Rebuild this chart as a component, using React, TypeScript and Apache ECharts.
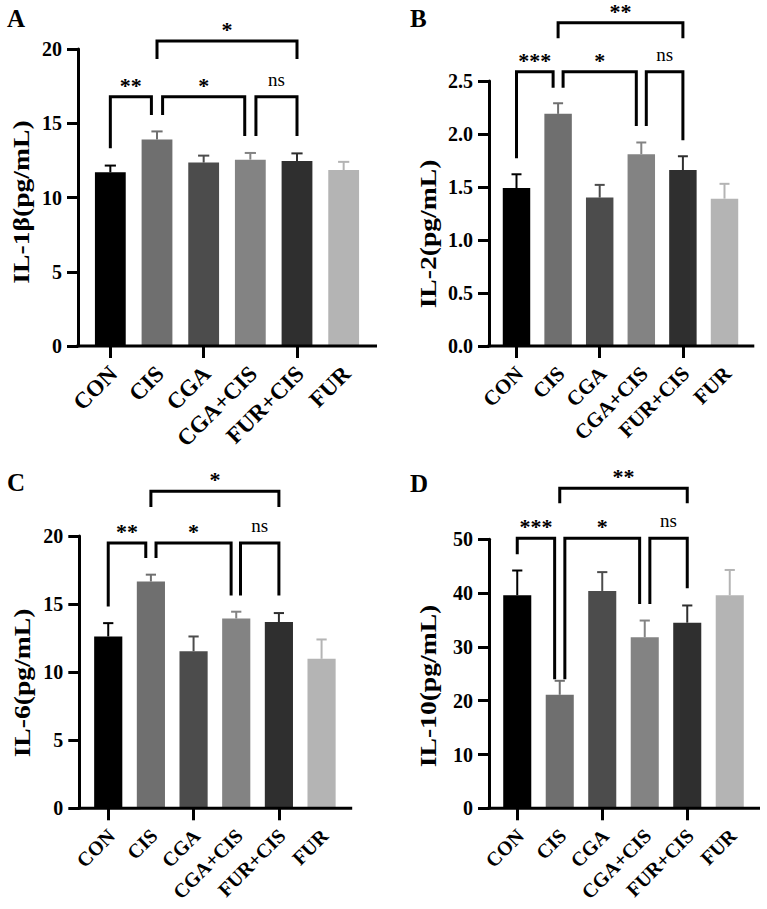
import React, { useEffect, useRef } from 'react';
import * as echarts from 'echarts';

const FONT = "'Liberation Serif', 'Times New Roman', serif";

const groups = ['CON', 'CIS', 'CGA', 'CGA+CIS', 'FUR+CIS', 'FUR'];
const groupColors = ['#000000', '#6f6f6f', '#4c4c4c', '#838383', '#2f2f2f', '#b4b4b4'];

// mean and SD per group
const il1bMean = [11.7, 13.9, 12.35, 12.55, 12.45, 11.85];
const il1bSd = [0.45, 0.55, 0.47, 0.45, 0.52, 0.55];
const il2Mean = [1.49, 2.19, 1.4, 1.81, 1.66, 1.39];
const il2Sd = [0.13, 0.1, 0.12, 0.11, 0.13, 0.14];
const il6Mean = [12.62, 16.66, 11.54, 13.94, 13.68, 10.98];
const il6Sd = [0.98, 0.5, 1.08, 0.5, 0.66, 1.42];
const il10Mean = [39.6, 21.1, 40.4, 31.8, 34.5, 39.6];
const il10Sd = [4.6, 2.6, 3.5, 3.1, 3.2, 4.7];

// significance brackets: groups compared, bracket height, leg end heights (axis units), label
type Bracket = {
  from: number; to: number; level: number; leftEnd: number; rightEnd: number; label: string;
  leftNudge: number; rightNudge: number;
};
const il1bBrackets: Bracket[] = [
  { from: 0, to: 1, level: 16.79, leftEnd: 13.31, rightEnd: 15.56, label: '**', leftNudge: 0, rightNudge: -0.12 },
  { from: 1, to: 3, level: 16.79, leftEnd: 15.56, rightEnd: 14.14, label: '*', leftNudge: 0.12, rightNudge: -0.12 },
  { from: 3, to: 4, level: 16.79, leftEnd: 14.14, rightEnd: 14.14, label: 'ns', leftNudge: 0.12, rightNudge: 0 },
  { from: 1, to: 4, level: 20.54, leftEnd: 19.33, rightEnd: 19.33, label: '*', leftNudge: 0, rightNudge: 0 },
];
const il2Brackets: Bracket[] = [
  { from: 0, to: 1, level: 2.588, leftEnd: 1.771, rightEnd: 2.437, label: '***', leftNudge: 0, rightNudge: -0.12 },
  { from: 1, to: 3, level: 2.588, leftEnd: 2.437, rightEnd: 2.075, label: '*', leftNudge: 0.12, rightNudge: -0.12 },
  { from: 3, to: 4, level: 2.588, leftEnd: 2.075, rightEnd: 1.94, label: 'ns', leftNudge: 0.12, rightNudge: 0 },
  { from: 1, to: 4, level: 3.05, leftEnd: 2.903, rightEnd: 2.903, label: '**', leftNudge: 0, rightNudge: 0 },
];
const il6Brackets: Bracket[] = [
  { from: 0, to: 1, level: 19.49, leftEnd: 14.82, rightEnd: 18.38, label: '**', leftNudge: 0, rightNudge: -0.12 },
  { from: 1, to: 3, level: 19.49, leftEnd: 18.38, rightEnd: 15.63, label: '*', leftNudge: 0.12, rightNudge: -0.12 },
  { from: 3, to: 4, level: 19.49, leftEnd: 15.63, rightEnd: 15.63, label: 'ns', leftNudge: 0.1, rightNudge: 0 },
  { from: 1, to: 4, level: 23.28, leftEnd: 22.13, rightEnd: 22.13, label: '*', leftNudge: 0, rightNudge: 0 },
];
const il10Brackets: Bracket[] = [
  { from: 0, to: 1, level: 50.19, leftEnd: 47.2, rightEnd: 24.0, label: '***', leftNudge: 0, rightNudge: -0.12 },
  { from: 1, to: 3, level: 50.19, leftEnd: 24.0, rightEnd: 37.97, label: '*', leftNudge: 0.12, rightNudge: -0.12 },
  { from: 3, to: 4, level: 50.19, leftEnd: 37.97, rightEnd: 40.9, label: 'ns', leftNudge: 0.12, rightNudge: 0 },
  { from: 1, to: 4, level: 59.48, leftEnd: 56.7, rightEnd: 56.7, label: '**', leftNudge: 0, rightNudge: 0 },
];

type Panel = {
  tag: string; title: string; mean: number[]; sd: number[]; max: number; interval: number; decimals: number;
  brackets: Bracket[];
  grid: { left: number; top: number; width: number; height: number };
  axisOffset: number; tail: number; catFont: number;
  titlePos: [number, number]; tagPos: [number, number];
};

const panels: Panel[] = [
  {
    tag: 'A', title: 'IL-1β(pg/mL)', mean: il1bMean, sd: il1bSd, max: 20, interval: 5, decimals: 0,
    brackets: il1bBrackets, grid: { left: 87, top: 49, width: 280, height: 297 }, axisOffset: 9, tail: 10, catFont: 23,
    titlePos: [21, 202], tagPos: [7, 18.5],
  },
  {
    tag: 'B', title: 'IL-2(pg/mL)', mean: il2Mean, sd: il2Sd, max: 2.5, interval: 0.5, decimals: 1,
    brackets: il2Brackets, grid: { left: 495.7, top: 81, width: 249.6, height: 265 }, axisOffset: 6.7, tail: 9, catFont: 21,
    titlePos: [428, 234], tagPos: [410, 18.5],
  },
  {
    tag: 'C', title: 'IL-6(pg/mL)', mean: il6Mean, sd: il6Sd, max: 20, interval: 5, decimals: 0,
    brackets: il6Brackets, grid: { left: 86.9, top: 536, width: 256, height: 272.3 }, axisOffset: 7.6, tail: 9.3, catFont: 20,
    titlePos: [22, 683], tagPos: [7, 482],
  },
  {
    tag: 'D', title: 'IL-10(pg/mL)', mean: il10Mean, sd: il10Sd, max: 50, interval: 10, decimals: 0,
    brackets: il10Brackets, grid: { left: 496, top: 539.3, width: 255, height: 269 }, axisOffset: 7, tail: 9, catFont: 20,
    titlePos: [428, 686], tagPos: [410, 483.5],
  },
];

function buildOption() {
  const grid: any[] = [];
  const xAxis: any[] = [];
  const yAxis: any[] = [];
  const series: any[] = [];
  const graphic: any[] = [];

  panels.forEach((p, gi) => {
    grid.push({ ...p.grid });
    xAxis.push({
      gridIndex: gi,
      type: 'category',
      data: groups,
      axisLine: { show: false },
      axisTick: { show: true, alignWithLabel: true, length: 12, lineStyle: { color: '#000', width: 3 } },
      // group names are drawn at 45° by the baseline series below
      axisLabel: { show: false },
    });
    yAxis.push({
      gridIndex: gi,
      type: 'value',
      min: 0,
      max: p.max,
      interval: p.interval,
      offset: p.axisOffset,
      splitLine: { show: false },
      axisLine: { show: true, lineStyle: { color: '#000', width: 3 } },
      axisTick: { show: true, length: 11, lineStyle: { color: '#000', width: 3 } },
      axisLabel: {
        margin: 16, color: '#000', fontFamily: FONT, fontWeight: 'bold', fontSize: 20,
        formatter: (v: number) => v.toFixed(p.decimals),
      },
    });

    series.push({
      type: 'bar',
      xAxisIndex: gi,
      yAxisIndex: gi,
      barWidth: '66%',
      data: p.mean.map((v, i) => ({ value: v, itemStyle: { color: groupColors[i] } })),
      z: 2,
    });

    // upward error bars (mean + SD)
    series.push({
      type: 'custom',
      xAxisIndex: gi,
      yAxisIndex: gi,
      clip: false,
      z: 3,
      data: p.mean.map((v, i) => [i, v, p.sd[i]]),
      renderItem: (params: any, api: any) => {
        const i = api.value(0);
        const m = api.value(1);
        const s = api.value(2);
        const base = api.coord([i, m]);
        const top = api.coord([i, m + s]);
        const band = api.size([1, 0])[0];
        const cap = band * 0.24;
        const color = groupColors[i];
        return {
          type: 'group',
          children: [
            { type: 'line', shape: { x1: base[0], y1: base[1], x2: top[0], y2: top[1] }, style: { stroke: color, lineWidth: 2 } },
            { type: 'line', shape: { x1: top[0] - cap / 2, y1: top[1], x2: top[0] + cap / 2, y2: top[1] }, style: { stroke: color, lineWidth: 2 } },
          ],
        };
      },
    });

    // x baseline spanning from the y axis past the last category, plus slanted group names
    series.push({
      type: 'custom',
      xAxisIndex: gi,
      yAxisIndex: gi,
      clip: false,
      z: 4,
      data: [[0, 0]],
      renderItem: (params: any, api: any) => {
        const band = api.size([1, 0])[0];
        const first = api.coord([0, 0]);
        const last = api.coord([groups.length - 1, 0]);
        const x1 = first[0] - band / 2 - p.axisOffset - 1.5;
        const x2 = last[0] + band / 2 + p.tail;
        const names = groups.map((g, i) => {
          const c = api.coord([i, 0]);
          return {
            type: 'text',
            x: c[0] + 3,
            y: c[1] + 24,
            rotation: Math.PI / 4,
            style: {
              text: g, fill: '#000', fontFamily: FONT, fontWeight: 'bold', fontSize: p.catFont,
              align: 'right', verticalAlign: 'middle',
            },
          };
        });
        return {
          type: 'group',
          children: [
            { type: 'line', shape: { x1, y1: first[1], x2, y2: first[1] }, style: { stroke: '#000', lineWidth: 3 } },
            ...names,
          ],
        };
      },
    });

    // significance brackets
    series.push({
      type: 'custom',
      xAxisIndex: gi,
      yAxisIndex: gi,
      clip: false,
      z: 5,
      data: p.brackets.map((b) => [b.from, b.level]),
      renderItem: (params: any, api: any) => {
        const b = p.brackets[params.dataIndex];
        const band = api.size([1, 0])[0];
        const xa = api.coord([b.from, 0])[0] + b.leftNudge * band;
        const xb = api.coord([b.to, 0])[0] + b.rightNudge * band;
        const yl = api.coord([0, b.level])[1];
        const ya = api.coord([0, b.leftEnd])[1];
        const yb = api.coord([0, b.rightEnd])[1];
        const isNs = b.label === 'ns';
        return {
          type: 'group',
          children: [
            {
              type: 'polyline',
              shape: { points: [[xa, ya], [xa, yl], [xb, yl], [xb, yb]] },
              style: { stroke: '#000', lineWidth: 3, fill: 'none', lineJoin: 'miter' },
            },
            {
              type: 'text',
              x: (xa + xb) / 2,
              y: isNs ? yl - 17.5 : yl - 11.5,
              style: {
                text: b.label,
                fill: '#000',
                fontFamily: FONT,
                fontWeight: isNs ? 'normal' : 'bold',
                fontSize: isNs ? 19 : 22,
                align: 'center',
                verticalAlign: 'middle',
              },
            },
          ],
        };
      },
    });

    graphic.push({
      type: 'text',
      x: p.titlePos[0],
      y: p.titlePos[1],
      rotation: Math.PI / 2,
      scaleX: 1.15,
      style: {
        text: p.title, fill: '#000', font: `bold 24px ${FONT}`,
        align: 'center', verticalAlign: 'middle', textAlign: 'center', textVerticalAlign: 'middle',
      },
    });
    graphic.push({
      type: 'text',
      x: p.tagPos[0],
      y: p.tagPos[1],
      style: {
        text: p.tag, fill: '#000', font: `bold 25px ${FONT}`,
        align: 'left', verticalAlign: 'middle', textAlign: 'left', textVerticalAlign: 'middle',
      },
    });
  });

  return {
    animation: false,
    backgroundColor: '#ffffff',
    textStyle: { fontFamily: FONT },
    grid,
    xAxis,
    yAxis,
    series,
    graphic,
  };
}

export default function App() {
  const ref = useRef<HTMLDivElement>(null);
  useEffect(() => {
    if (!ref.current) return;
    const chart = echarts.init(ref.current, undefined, { renderer: 'svg' });
    chart.setOption(buildOption());
    return () => chart.dispose();
  }, []);
  return (
    <div
      ref={ref}
      style={{ position: 'absolute', left: 0, top: 0, width: 767, height: 909, background: '#fff' }}
    />
  );
}
